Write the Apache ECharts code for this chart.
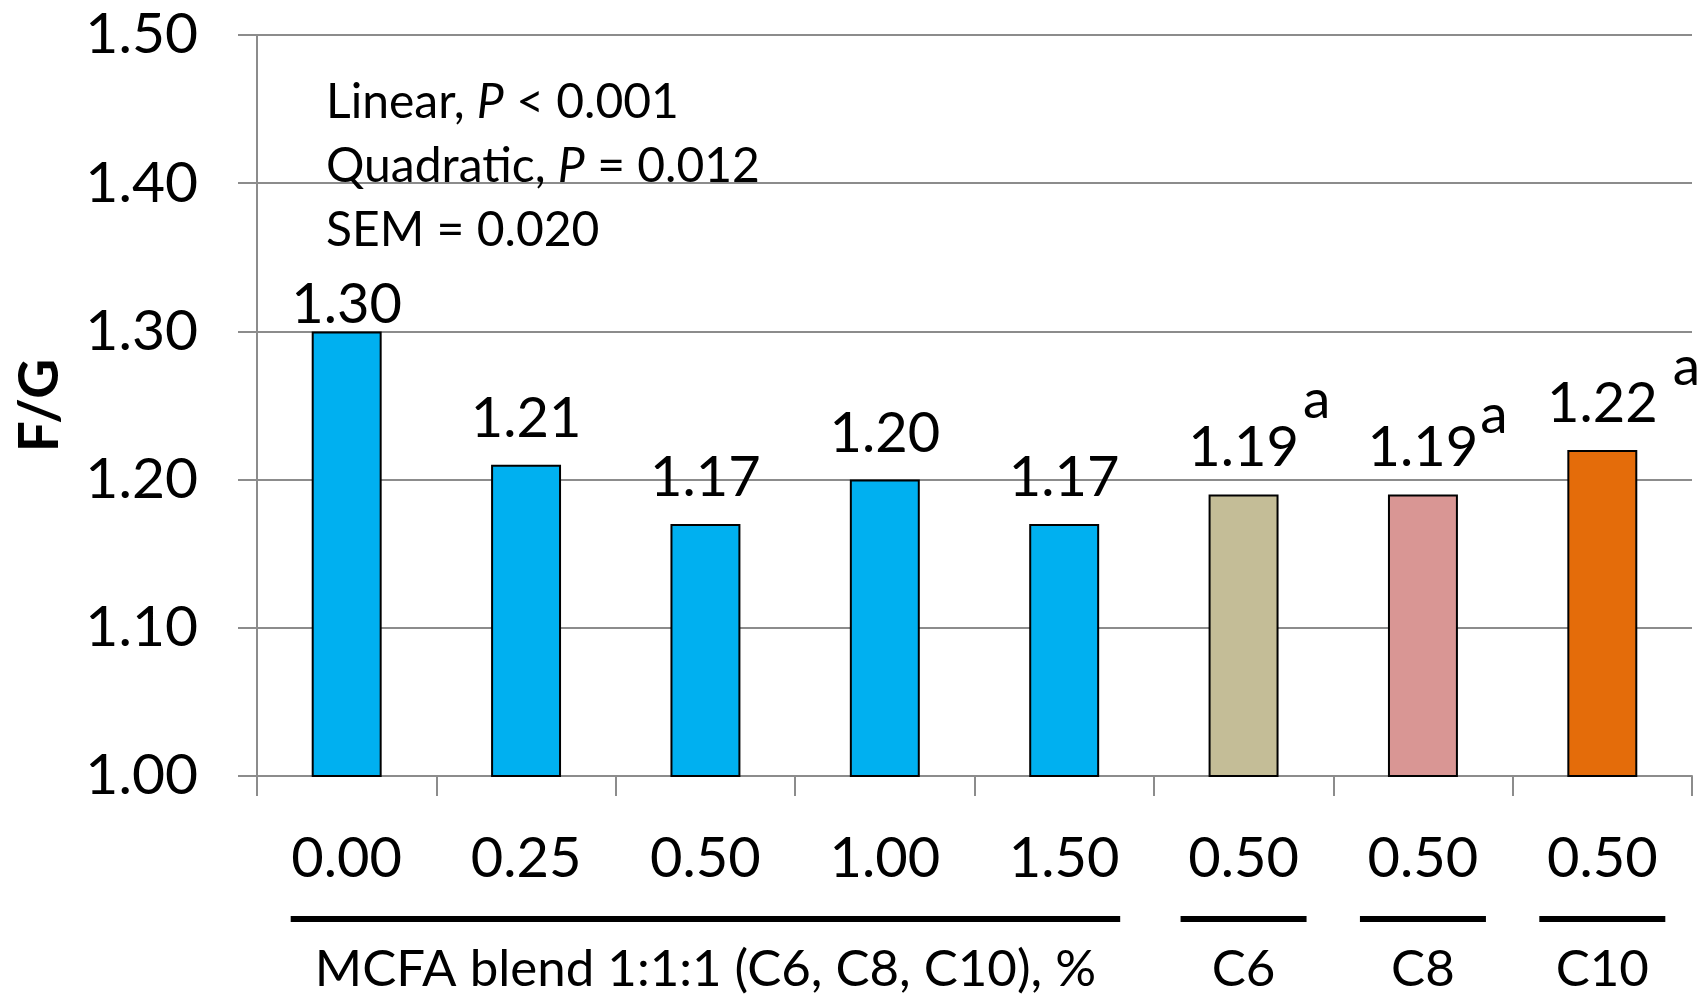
<!DOCTYPE html>
<html>
<head>
<meta charset="utf-8">
<script src="https://cdn.jsdelivr.net/npm/echarts@6/dist/echarts.min.js"></script>
<style>
  html, body { margin: 0; padding: 0; background: #fff; }
  #fgChart { width: 1708px; height: 997px; }
</style>
</head>
<body>
<div id="fgChart"></div>
<script>
  // data
  var categories = ['0.00', '0.25', '0.50', '1.00', '1.50', '0.50', '0.50', '0.50'];
  var fgValues = [1.30, 1.21, 1.17, 1.20, 1.17, 1.19, 1.19, 1.22];
  var superscripts = ['', '', '', '', '', 'a', 'a', 'a'];
  var barColors = ['#00B0F0', '#00B0F0', '#00B0F0', '#00B0F0', '#00B0F0', '#C4BD97', '#D99694', '#E46C0A'];
  var yMin = 1.00, yMax = 1.50, yStep = 0.10;
  var groups = [
    {name: 'MCFA blend 1:1:1 (C6, C8, C10), %', first: 0, last: 4, pad: 56},
    {name: 'C6', first: 5, last: 5, pad: 63},
    {name: 'C8', first: 6, last: 6, pad: 63},
    {name: 'C10', first: 7, last: 7, pad: 63}
  ];
  var statLines = [
    '{n|Linear, }{i|P}{n| < 0.001}',
    '{n|Quadratic, }{i|P}{n| = 0.012}',
    '{n|SEM = 0.020}'
  ];

  var FONT = 'Lato';
  var gridColor = '#8c8c8c';

  // label tweaks per bar (first label sits lower in the original)
  var labelDist = [-2, 18, 18, 18, 18, 18, 18, 18];
  var supOffset = [[0, 0], [0, 0], [0, 0], [0, 0], [0, 0], [73, -49], [71, -34], [84, -37]];

  var chart = echarts.init(document.getElementById('fgChart'));

  var barData = fgValues.map(function (v, i) {
    return {
      value: v,
      itemStyle: {color: barColors[i]},
      label: {distance: labelDist[i]}
    };
  });
  var supData = fgValues.map(function (v, i) {
    return {
      value: v,
      label: {show: superscripts[i] !== '', offset: supOffset[i], distance: 18}
    };
  });

  var option = {
    animation: false,
    grid: {left: 257, right: 16, top: 35, bottom: 221, containLabel: false},
    xAxis: {
      type: 'category',
      data: categories,
      boundaryGap: true,
      axisLine: {lineStyle: {color: gridColor, width: 2}},
      axisTick: {show: true, length: 20, interval: 0, lineStyle: {color: gridColor, width: 2}},
      axisLabel: {
        interval: 0, margin: 55,
        fontFamily: FONT, fontSize: 56, color: '#000'
      }
    },
    yAxis: {
      type: 'value',
      min: yMin, max: yMax, interval: yStep,
      name: 'F/G',
      nameLocation: 'middle',
      nameRotate: 90,
      nameGap: 189,
      nameTextStyle: {fontFamily: FONT, fontWeight: 'bold', fontSize: 55, color: '#000'},
      axisLine: {show: true, lineStyle: {color: gridColor, width: 2}},
      axisTick: {show: true, length: 19, lineStyle: {color: gridColor, width: 2}},
      splitLine: {lineStyle: {color: gridColor, width: 2}},
      axisLabel: {
        margin: 59,
        fontFamily: FONT, fontSize: 57, color: '#000',
        formatter: function (v) { return v.toFixed(2); }
      }
    },
    series: [
      {
        name: 'F/G',
        type: 'bar',
        barWidth: '39%',
        data: barData,
        itemStyle: {borderColor: '#000', borderWidth: 2},
        label: {
          show: true,
          position: 'top',
          fontFamily: FONT, fontSize: 56, color: '#000',
          formatter: function (p) { return p.value.toFixed(2); }
        },
        z: 3
      },
      {
        name: 'sup',
        type: 'bar',
        barWidth: '39%',
        barGap: '-100%',
        silent: true,
        data: supData,
        itemStyle: {color: 'rgba(0,0,0,0)'},
        label: {
          position: 'top',
          fontFamily: FONT, fontSize: 55, color: '#000',
          formatter: function (p) { return superscripts[p.dataIndex]; }
        },
        z: 4
      }
    ]
  };

  chart.setOption(option);

  // group brackets and names under the x axis, placed from the axis scale
  var baseY = chart.convertToPixel({yAxisIndex: 0}, yMin);
  var graphics = [];
  groups.forEach(function (g) {
    var x0 = chart.convertToPixel({xAxisIndex: 0}, g.first) - g.pad;
    var x1 = chart.convertToPixel({xAxisIndex: 0}, g.last) + g.pad;
    graphics.push({
      type: 'line',
      shape: {x1: x0, y1: baseY + 143, x2: x1, y2: baseY + 143},
      style: {stroke: '#000', lineWidth: 6}
    });
    graphics.push({
      type: 'text',
      x: (x0 + x1) / 2,
      y: baseY + 194,
      style: {
        text: g.name, fontFamily: FONT, fontSize: 51, fill: '#000',
        align: 'center', verticalAlign: 'middle'
      }
    });
  });

  statLines.forEach(function (t, i) {
    graphics.push({
      type: 'text',
      x: 326,
      y: 103 + i * 64,
      style: {
        text: t,
        verticalAlign: 'middle',
        rich: {
          n: {fontFamily: FONT, fontSize: 48, fill: '#000'},
          i: {fontFamily: FONT, fontSize: 48, fill: '#000', fontStyle: 'italic'}
        }
      }
    });
  });

  chart.setOption({graphic: graphics});
</script>
</body>
</html>
